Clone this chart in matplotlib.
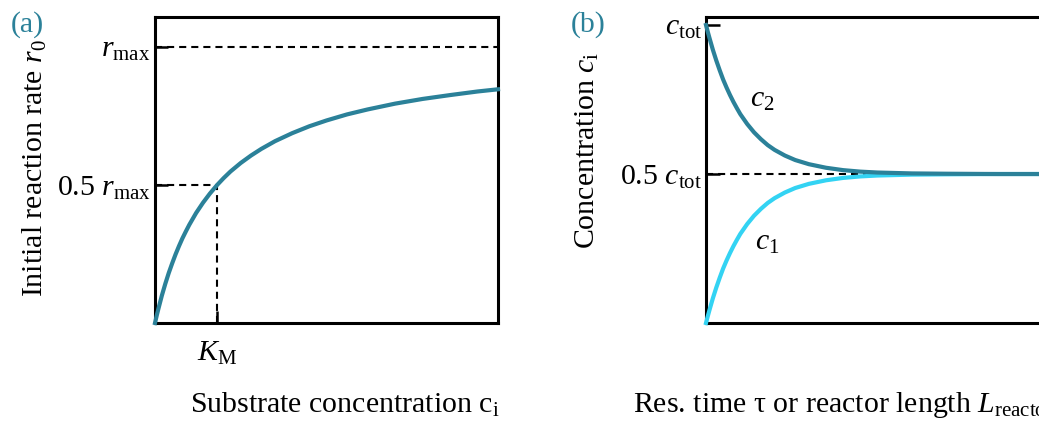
import matplotlib
matplotlib.use("Agg")
import matplotlib.pyplot as plt

plt.rcParams['font.family'] = ['Liberation Serif', 'DejaVu Serif']
plt.rcParams['mathtext.fontset'] = 'custom'
plt.rcParams['mathtext.rm'] = 'Liberation Serif'
plt.rcParams['mathtext.it'] = 'Liberation Serif:italic'

# ---- data (a): initial rate vs substrate concentration ----
conc = [0, 0.005, 0.01, 0.02, 0.03, 0.04, 0.05, 0.06, 0.07, 0.08, 0.09, 0.10, 0.12, 0.14,
        0.16, 0.181, 0.20, 0.22, 0.25, 0.28, 0.31, 0.35, 0.40, 0.45, 0.50, 0.56, 0.62,
        0.70, 0.78, 0.86, 0.94, 1.00]
rate = [0, 0.027, 0.052, 0.0995, 0.142, 0.181, 0.216, 0.249, 0.279, 0.307, 0.332, 0.356,
        0.399, 0.436, 0.469, 0.50, 0.525, 0.549, 0.580, 0.607, 0.631, 0.659, 0.688, 0.713,
        0.734, 0.756, 0.774, 0.795, 0.812, 0.826, 0.839, 0.847]
r_max = 1.0
K_M = 0.181

# ---- data (b): concentrations vs residence time ----
tau = [0, 0.005, 0.01, 0.02, 0.03, 0.04, 0.05, 0.06, 0.07, 0.08, 0.09, 0.10, 0.12, 0.14,
       0.16, 0.18, 0.20, 0.23, 0.26, 0.30, 0.35, 0.40, 0.45, 0.50, 0.60, 0.70, 0.85, 1.0]
c1 = [0, 0.022, 0.043, 0.083, 0.119, 0.152, 0.183, 0.210, 0.235, 0.258, 0.279, 0.299,
      0.332, 0.360, 0.383, 0.403, 0.419, 0.438, 0.453, 0.467, 0.479, 0.487, 0.492, 0.495,
      0.498, 0.499, 0.500, 0.500]
c2 = [1.0, 0.978, 0.957, 0.917, 0.881, 0.848, 0.817, 0.790, 0.765, 0.742, 0.721, 0.701,
      0.668, 0.640, 0.617, 0.597, 0.581, 0.562, 0.547, 0.533, 0.521, 0.513, 0.508, 0.505,
      0.502, 0.501, 0.500, 0.500]
c_tot = 1.0

teal = '#2b8199'
cyan = '#33d3f3'
fs = 21.5
dash = dict(color='k', lw=1.5, ls=(0, (3.4, 2.4)))

fig = plt.figure(figsize=(10.39, 4.23), dpi=100)
W, H = 1039, 423

def px_axes(x0, y0, x1, y1):
    return fig.add_axes([x0 / W, 1 - y1 / H, (x1 - x0) / W, (y1 - y0) / H])

# ---------------- panel (a) ----------------
ax1 = px_axes(155, 17, 498, 323)
ax1.plot(conc, rate, color=teal, lw=3, solid_joinstyle='round', clip_on=False, zorder=3)
ax1.plot([0, 1], [r_max, r_max], **dash)
ax1.plot([0, K_M], [0.5 * r_max, 0.5 * r_max], **dash)
ax1.plot([K_M, K_M], [0, 0.5 * r_max], **dash)
ax1.set_xlim(0, 1)
ax1.set_ylim(0, 1.109)
ax1.set_yticks([0.5 * r_max, r_max])
ax1.set_yticklabels([r'0.5 $r_{\rm max}$', r'$r_{\rm max}$'], fontsize=fs)
ax1.set_xticks([K_M])
ax1.set_xticklabels([r'$K_{\rm M}$'], fontsize=fs)
ax1.tick_params(axis='y', direction='in', length=9, width=1.8, pad=3)
ax1.tick_params(axis='x', direction='in', length=9, width=1.8, pad=12)
for s in ax1.spines.values():
    s.set_linewidth(2.2)
fig.text(35 / W, 1 - 168 / H, r'Initial reaction rate $r_0$', fontsize=fs,
         rotation=90, ha='center', va='center')
fig.text(345 / W, 1 - 405 / H, r'Substrate concentration c$_{\rm i}$', fontsize=fs,
         ha='center', va='center')
fig.text(11 / W, 1 - 25 / H, '(a)', fontsize=fs, color=teal, va='center')

# ---------------- panel (b) ----------------
ax2 = px_axes(706, 17, 1049, 323)
ax2.plot([0, 1], [0.5 * c_tot, 0.5 * c_tot], zorder=2, **dash)
ax2.plot(tau, c1, color=cyan, lw=3, solid_joinstyle='round', clip_on=False, zorder=3)
ax2.plot(tau, c2, color=teal, lw=3, solid_joinstyle='round', clip_on=False, zorder=4)
ax2.set_xlim(0, 1)
ax2.set_ylim(0, 1.027)
ax2.set_yticks([0.5 * c_tot, c_tot])
ax2.set_yticklabels([r'0.5 $c_{\rm tot}$', r'$c_{\rm tot}$'], fontsize=fs)
ax2.set_xticks([])
ax2.tick_params(axis='y', direction='in', length=10, width=1.8, pad=3)
for s in ax2.spines.values():
    s.set_linewidth(2.2)
ax2.text(0.128, 0.748, r'$c_2$', fontsize=fs, va='center', ha='left')
ax2.text(0.143, 0.268, r'$c_1$', fontsize=fs, va='center', ha='left')
fig.text(587 / W, 1 - 150 / H, r'Concentration $c_{\rm i}$', fontsize=fs,
         rotation=90, ha='center', va='center')
fig.text(633 / W, 1 - 405 / H, r'Res. time τ or reactor length $L_{\rm reactor}$', fontsize=fs,
         ha='left', va='center')
fig.text(571 / W, 1 - 25 / H, '(b)', fontsize=fs, color=teal, va='center')

fig.savefig('out.png', dpi=100)
